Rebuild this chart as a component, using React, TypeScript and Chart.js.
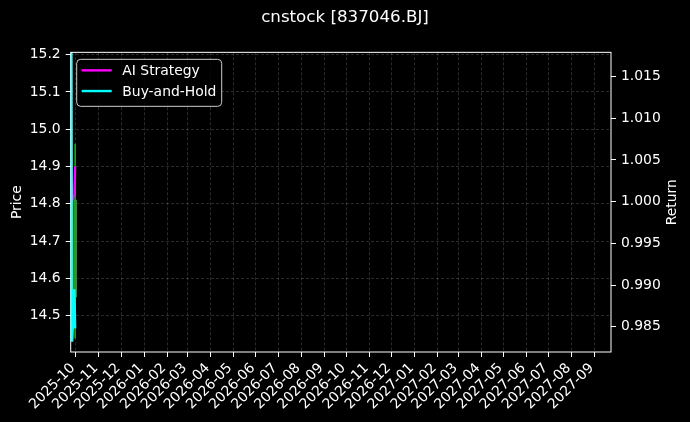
import { useEffect, useRef } from "react"
import { Chart, registerables } from "chart.js"

Chart.register(...registerables)

// trading days shown (only the first few days carry data)
const dates = ["2025-09-25", "2025-09-26", "2025-09-29", "2025-09-30"]
const aiStrategy = [1.0, 1.0, 1.0008, 1.0042]
const buyAndHold = [1.0185, 0.9832, 0.9895, 0.9848]

// candle (price axis)
const candleDates = ["2025-09-30"]
const candleOpen = [14.55]
const candleHigh = [14.96]
const candleLow = [14.44]
const candleClose = [14.81]

const monthTicks = [
  "2025-10", "2025-11", "2025-12", "2026-01", "2026-02", "2026-03",
  "2026-04", "2026-05", "2026-06", "2026-07", "2026-08", "2026-09",
  "2026-10", "2026-11", "2026-12", "2027-01", "2027-02", "2027-03",
  "2027-04", "2027-05", "2027-06", "2027-07", "2027-08", "2027-09",
]
const priceTicks = [14.5, 14.6, 14.7, 14.8, 14.9, 15.0, 15.1, 15.2]
const returnTicks = [0.985, 0.99, 0.995, 1.0, 1.005, 1.01, 1.015]

const DAY = 86400000
const dayNum = (s: string) => Date.parse(s.length === 7 ? s + "-01" : s) / DAY
const fmtMonth = (d: number) => {
  const dt = new Date(d * DAY)
  return `${dt.getUTCFullYear()}-${String(dt.getUTCMonth() + 1).padStart(2, "0")}`
}

const FONT = "'DejaVu Sans', sans-serif"

const framePlugin = {
  id: "frame",
  afterDatasetsDraw(chart: Chart) {
    const { ctx, chartArea } = chart
    ctx.save()
    ctx.strokeStyle = "#ffffff"
    ctx.lineWidth = 1
    ctx.strokeRect(chartArea.left, chartArea.top, chartArea.right - chartArea.left, chartArea.bottom - chartArea.top)
    ctx.restore()
  },
}

// matplotlib-style right axis label (reads bottom to top)
const rightTitle = {
  id: "rightTitle",
  afterDraw(chart: Chart) {
    const { ctx, chartArea } = chart
    ctx.save()
    ctx.translate(672, (chartArea.top + chartArea.bottom) / 2)
    ctx.rotate(-Math.PI / 2)
    ctx.font = `13.9px ${FONT}`
    ctx.fillStyle = "#ffffff"
    ctx.textAlign = "center"
    ctx.textBaseline = "middle"
    ctx.fillText("Return", 0, 0)
    ctx.restore()
  },
}

const boxLegend = {
  id: "boxLegend",
  afterDraw(chart: Chart) {
    const { ctx, chartArea } = chart
    const x = chartArea.left + 6
    const y = chartArea.top + 7
    const w = 145
    const h = 47
    const r = 4
    ctx.save()
    ctx.beginPath()
    ctx.moveTo(x + r, y)
    ctx.arcTo(x + w, y, x + w, y + h, r)
    ctx.arcTo(x + w, y + h, x, y + h, r)
    ctx.arcTo(x, y + h, x, y, r)
    ctx.arcTo(x, y, x + w, y, r)
    ctx.closePath()
    ctx.fillStyle = "rgba(0,0,0,0.8)"
    ctx.fill()
    ctx.strokeStyle = "#cccccc"
    ctx.lineWidth = 1
    ctx.stroke()

    const items = [
      { label: "AI Strategy", color: "#ff00ff" },
      { label: "Buy-and-Hold", color: "#00ffff" },
    ]
    ctx.font = `13.9px ${FONT}`
    ctx.textBaseline = "middle"
    items.forEach((it, i) => {
      const ly = y + 11 + i * 20.7
      ctx.strokeStyle = it.color
      ctx.lineWidth = 2.4
      ctx.beginPath()
      ctx.moveTo(x + 5, ly)
      ctx.lineTo(x + 35, ly)
      ctx.stroke()
      ctx.fillStyle = "#ffffff"
      ctx.fillText(it.label, x + 45.6, ly + 1)
    })
    ctx.restore()
  },
}

const bgPlugin = {
  id: "bg",
  beforeDraw(chart: Chart) {
    const { ctx, width, height } = chart
    ctx.save()
    ctx.fillStyle = "#000000"
    ctx.fillRect(0, 0, width, height)
    ctx.restore()
  },
}

export default function App() {
  const chartRef = useRef<HTMLCanvasElement>(null)
  const chartInstance = useRef<Chart | null>(null)

  useEffect(() => {
    document.body.style.margin = "0"
    document.body.style.background = "#000"
    if (!chartRef.current) return

    const xs = dates.map(dayNum)
    const cx = candleDates.map(dayNum)
    const candleColor = candleClose.map((c, i) => (c >= candleOpen[i] ? "#1f9e1f" : "#d62728"))

    const gridColor = "rgba(255,255,255,0.28)"

    if (chartInstance.current) chartInstance.current.destroy()

    chartInstance.current = new Chart(chartRef.current, {
      type: "line",
      data: {
        datasets: [
          {
            type: "line",
            label: "Buy-and-Hold",
            data: xs.map((x, i) => ({ x, y: buyAndHold[i] })),
            yAxisID: "yRet",
            borderColor: "#00ffff",
            borderWidth: 2.4,
            pointRadius: 0,
            tension: 0,
            order: 1,
          },
          {
            type: "line",
            label: "AI Strategy",
            data: xs.map((x, i) => ({ x, y: aiStrategy[i] })),
            yAxisID: "yRet",
            borderColor: "#ff00ff",
            borderWidth: 2.4,
            pointRadius: 0,
            tension: 0,
            order: 2,
          },
          {
            type: "bar",
            label: "body",
            data: cx.map((x, i) => ({ x, y: [candleOpen[i], candleClose[i]] })) as any,
            yAxisID: "yPrice",
            backgroundColor: candleColor,
            barThickness: 3,
            grouped: false,
            order: 3,
          } as any,
          {
            type: "bar",
            label: "wick",
            data: cx.map((x, i) => ({ x, y: [candleLow[i], candleHigh[i]] })) as any,
            yAxisID: "yPrice",
            backgroundColor: candleColor,
            barThickness: 1,
            grouped: false,
            order: 4,
          } as any,
        ],
      },
      options: {
        animation: false,
        responsive: true,
        maintainAspectRatio: false,
        layout: { padding: 0, autoPadding: false },
        plugins: {
          legend: { display: false },
          tooltip: { enabled: false },
          title: {
            display: true,
            text: "cnstock [837046.BJ]",
            color: "#ffffff",
            font: { family: FONT, size: 16.7, weight: "normal" },
            padding: { top: 8, bottom: 24.3 },
          },
        },
        scales: {
          x: {
            type: "linear",
            min: dayNum("2025-09-25") - 1,
            max: dayNum("2027-09-23"),
            offset: false,
            afterBuildTicks: (scale: any) => {
              scale.ticks = monthTicks.map((m) => ({ value: dayNum(m) }))
            },
            afterFit: (scale: any) => {
              scale.height = 70
            },
            ticks: {
              autoSkip: false,
              maxRotation: 45,
              minRotation: 45,
              color: "#ffffff",
              padding: 3,
              labelOffset: -3,
              font: { family: FONT, size: 13.9 },
              callback: (v: any) => fmtMonth(Number(v)),
            },
            grid: {
              offset: false,
              color: gridColor,
              lineWidth: 0.6,
              drawTicks: true,
              tickLength: 5,
              tickColor: "#ffffff",
              tickWidth: 1,
            },
            border: { display: false, dash: [3, 2] },
          },
          yPrice: {
            type: "linear",
            position: "left",
            min: 14.403,
            max: 15.206,
            afterBuildTicks: (scale: any) => {
              scale.ticks = priceTicks.map((v) => ({ value: v }))
            },
            afterFit: (scale: any) => {
              scale.width = 70.7
            },
            ticks: {
              color: "#ffffff",
              padding: 5,
              font: { family: FONT, size: 13.9 },
              callback: (v: any) => Number(v).toFixed(1),
            },
            grid: {
              color: gridColor,
              lineWidth: 0.6,
              drawTicks: true,
              tickLength: 5,
              tickColor: "#ffffff",
              tickWidth: 1,
            },
            border: { display: false, dash: [3, 2] },
            title: {
              display: true,
              text: "Price",
              color: "#ffffff",
              font: { family: FONT, size: 13.9 },
              padding: { top: 8.7, bottom: 0 },
            },
          },
          yRet: {
            type: "linear",
            position: "right",
            min: 0.98197,
            max: 1.0179,
            afterBuildTicks: (scale: any) => {
              scale.ticks = returnTicks.map((v) => ({ value: v }))
            },
            afterFit: (scale: any) => {
              scale.width = 79
            },
            ticks: {
              color: "#ffffff",
              padding: 5,
              font: { family: FONT, size: 13.9 },
              callback: (v: any) => Number(v).toFixed(3),
            },
            grid: {
              drawOnChartArea: false,
              drawTicks: true,
              tickLength: 5,
              tickColor: "#ffffff",
              tickWidth: 1,
            },
            border: { display: false },
          },
        },
      } as any,
      plugins: [bgPlugin, framePlugin, boxLegend, rightTitle],
    })

    return () => {
      if (chartInstance.current) {
        chartInstance.current.destroy()
        chartInstance.current = null
      }
    }
  }, [])

  return (
    <div style={{ position: "absolute", left: 0, top: 0, width: 690, height: 422, background: "#000" }}>
      <canvas ref={chartRef} />
    </div>
  )
}
